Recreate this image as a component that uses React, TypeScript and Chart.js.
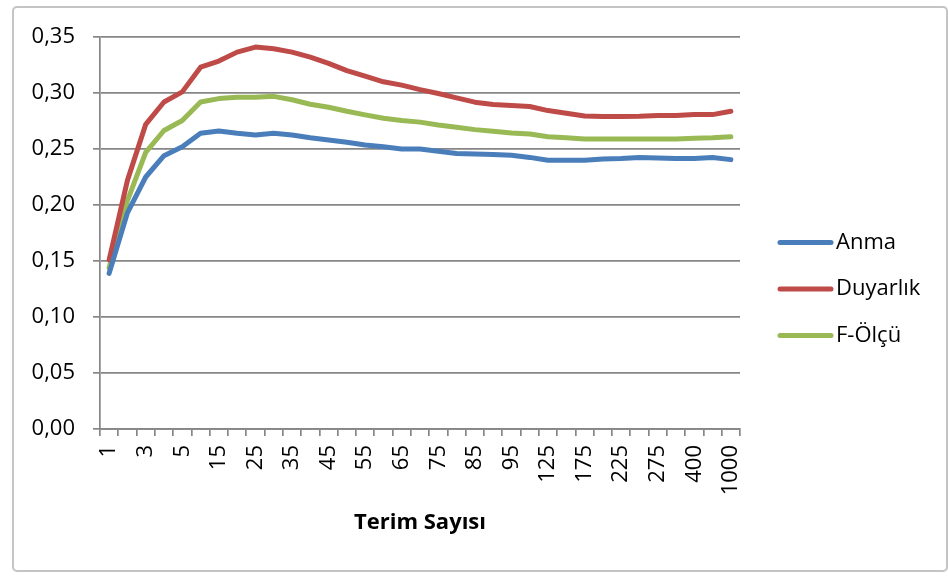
import React, { useEffect, useRef } from "react";
import { Chart, registerables } from "chart.js";

Chart.register(...registerables);

const categories = ["1","2","3","4","5","10","15","20","25","30","35","40","45","50","55","60","65","70","75","80","85","90","95","100","125","150","175","200","225","250","275","300","400","500","1000"];

const anma = [0.139,0.193,0.225,0.244,0.252,0.264,0.266,0.264,0.2625,0.264,0.2625,0.260,0.258,0.256,0.2535,0.252,0.250,0.250,0.248,0.246,0.2455,0.245,0.2445,0.2425,0.240,0.240,0.240,0.241,0.2415,0.2425,0.242,0.2415,0.2415,0.2425,0.2405];

const duyarlik = [0.151,0.222,0.272,0.292,0.301,0.323,0.3285,0.3365,0.341,0.3395,0.3365,0.332,0.3265,0.320,0.315,0.310,0.307,0.303,0.2995,0.2957,0.2918,0.2897,0.2888,0.288,0.2843,0.282,0.2795,0.279,0.279,0.2793,0.280,0.280,0.2807,0.2807,0.2837];

const fOlcu = [0.144,0.204,0.247,0.2665,0.2755,0.292,0.295,0.2963,0.2963,0.297,0.294,0.290,0.2873,0.2837,0.2805,0.2775,0.2755,0.274,0.2715,0.2694,0.2673,0.2658,0.2643,0.2634,0.261,0.260,0.259,0.259,0.259,0.259,0.259,0.259,0.2597,0.260,0.261];

const seriesNames = ["Anma", "Duyarlık", "F-Ölçü"];
const seriesColors = ["#4A7EBB", "#BE4B48", "#98B954"];
const yMin = 0;
const yMax = 0.35;
const yStep = 0.05;
const xTitle = "Terim Sayısı";

const FONT = "'Open Sans', 'Noto Sans', sans-serif";
const GRID = "#868686";

const legendPlugin = {
  id: "customLegend",
  afterDraw(chart: any) {
    const ctx = chart.ctx;
    const n = chart.data.datasets.length;
    const cy = chart.height / 2 + 1;
    const gap = 46.5;
    ctx.save();
    chart.data.datasets.forEach((ds: any, i: number) => {
      const y = cy + (i - (n - 1) / 2) * gap;
      ctx.strokeStyle = ds.borderColor;
      ctx.lineWidth = 5;
      ctx.lineCap = "round";
      ctx.beginPath();
      ctx.moveTo(780, y);
      ctx.lineTo(831, y);
      ctx.stroke();
      ctx.fillStyle = "#000";
      ctx.font = `22px ${FONT}`;
      ctx.textBaseline = "middle";
      ctx.textAlign = "left";
      ctx.fillText(ds.label, 836, y);
    });
    ctx.restore();
  },
};

export default function App() {
  const canvasRef = useRef<HTMLCanvasElement | null>(null);

  useEffect(() => {
    const canvas = canvasRef.current;
    if (!canvas) return;
    const data = [anma, duyarlik, fOlcu];
    const chart = new Chart(canvas, {
      type: "line",
      data: {
        labels: categories,
        datasets: data.map((d, i) => ({
          label: seriesNames[i],
          data: d,
          borderColor: seriesColors[i],
          backgroundColor: seriesColors[i],
          borderWidth: 5,
          pointRadius: 0,
          pointHoverRadius: 0,
          tension: 0,
          borderCapStyle: "round",
          borderJoinStyle: "round",
          fill: false,
        })),
      },
      options: {
        responsive: false,
        animation: false,
        events: [],
        layout: { padding: { left: 0, top: 37, right: 208, bottom: 0 } },
        plugins: {
          legend: { display: false },
          tooltip: { enabled: false },
          title: { display: false },
        },
        scales: {
          x: {
            type: "category",
            offset: true,
            afterFit(scale: any) {
              scale.height = 576 - 429;
            },
            grid: {
              display: true,
              offset: true,
              drawOnChartArea: false,
              drawTicks: true,
              tickLength: 7,
              color: GRID,
              lineWidth: 1.7,
            },
            border: { display: true, color: GRID, width: 1.7 },
            ticks: {
              autoSkip: false,
              minRotation: 90,
              maxRotation: 90,
              padding: 9,
              color: "#000",
              font: { family: FONT, size: 22 },
              callback: (_v: any, i: number) => (i % 2 === 0 ? categories[i] : ""),
            },
            title: {
              display: true,
              text: xTitle,
              color: "#000",
              font: { family: FONT, size: 22, weight: "bold" },
              padding: { top: 0, bottom: 40 },
            },
          },
          y: {
            min: yMin,
            max: yMax,
            afterFit(scale: any) {
              scale.width = 100;
            },
            grid: {
              color: GRID,
              lineWidth: 1.7,
              drawTicks: true,
              tickLength: 7,
            },
            border: { display: true, color: GRID, width: 1.7 },
            ticks: {
              stepSize: yStep,
              padding: 18,
              color: "#000",
              font: { family: FONT, size: 22 },
              callback: (v: any) => Number(v).toFixed(2).replace(".", ","),
            },
          },
        },
      },
      plugins: [legendPlugin],
    } as any);
    return () => chart.destroy();
  }, []);

  return (
    <div style={{ position: "fixed", left: 0, top: 0, width: 948, height: 576, background: "#ffffff", overflow: "hidden" }}>
      <div
        style={{
          position: "absolute",
          left: 12,
          top: 6,
          width: 932,
          height: 562,
          border: "2px solid #c4c4c4",
          borderRadius: 5,
          background: "#fff",
        }}
      />
      <canvas ref={canvasRef} width={948} height={576} style={{ position: "absolute", left: 0, top: 0, width: 948, height: 576 }} />
    </div>
  );
}
